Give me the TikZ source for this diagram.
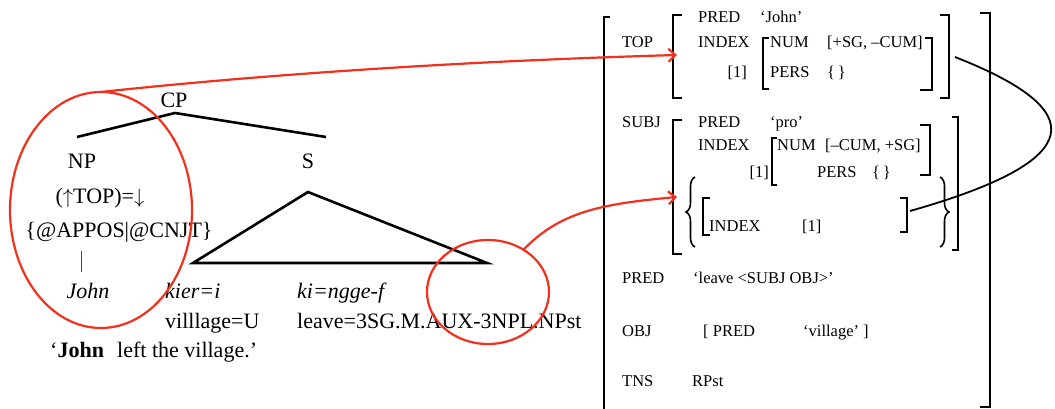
\documentclass[tikz,border=0pt]{standalone}
\usepackage{fontspec}
\setmainfont{Liberation Serif}
\usetikzlibrary{arrows.meta,shapes.geometric,decorations.pathreplacing}
\definecolor{hlred}{RGB}{242,48,28}
\begin{document}
\begin{tikzpicture}[x=1pt,y=-1pt,
  tr/.style={font=\fontsize{22}{26}\selectfont, inner sep=0pt, anchor=base},
  tri/.style={font=\fontsize{22}{26}\selectfont\itshape, inner sep=0pt, anchor=base},
  trl/.style={tr, anchor=base west},
  tril/.style={tri, anchor=base west},
  fs/.style={font=\fontsize{16.5}{20}\selectfont, inner sep=0pt, anchor=base west},
  fsr/.style={fs, anchor=base east},
  treeline/.style={line width=2.6pt, line join=miter},
  brk/.style={line width=1.8pt},
  curlyl/.style={line width=1.6pt, decorate, decoration={brace, amplitude=9pt}},
  hl/.style={draw=hlred, line width=2.2pt},
  hlarrow/.style={hl, -{Straight Barb[length=7pt,width=13pt]}},
  oval/.style={ellipse, hl, inner sep=0pt, outer sep=0pt},
]
\useasboundingbox (0,0) rectangle (1055,409);

% ---------- c-structure tree ----------
\node[tr] (cp) at (174,108) {CP};
\node[tr] (np) at (82,168) {NP};
\node[tr] (s)  at (308,168) {S};
\coordinate (cp-foot) at (175,113);
\coordinate (np-head) at (77,137);
\coordinate (s-head)  at (326,137);
\draw[treeline] (np-head) -- (cp-foot) -- (s-head);

\node[tr] (ann-top)  at (100,204) {($\uparrow$TOP)=$\downarrow$};
\node[tr] (ann-tmpl) at (119,237) {\{@APPOS|@CNJT\}};
\coordinate (bar-top) at (81,251);
\coordinate (bar-bot) at (81,272);
\draw[line width=0.9pt, black!70] (bar-top) -- (bar-bot);

\coordinate (tri-apex)  at (308,192);
\coordinate (tri-left)  at (193,263);
\coordinate (tri-right) at (487,263);
\draw[treeline] (tri-apex) -- (tri-left) -- (tri-right) -- cycle;

% ---------- words, glosses, translation ----------
\node[tri]  (w-john) at (88,298)  {John};
\node[tril] (w-kier) at (165,298) {kier=i};
\node[tril] (w-verb) at (297,298) {ki=ngge-f};
\node[trl]  (g-kier) at (165,328) {villlage=U};
\node[trl]  (g-verb) at (297,328) {leave=3SG.M.AUX-3NPL.NPst};
\node[trl]  (transl) at (50,357)  {‘\textbf{John}\hspace{0.6em}left the village.’};

% ---------- f-structure ----------
% outer brackets
\draw[brk] (610,17) -- (604,17) -- (604,409);
\draw[brk] (980,13) -- (990,13) -- (990,407) -- (980,407);

% TOP
\node[fs] (l-top) at (622,48) {TOP};
\draw[brk] (682,15) -- (673,15) -- (673,98) -- (682,98);
\draw[brk] (940,15) -- (949,15) -- (949,98) -- (940,98);
\node[fs]  (top-pred)   at (698,23) {PRED};
\node[fs]  (top-pred-v) at (760,23) {‘John’};
\node[fs]  (top-index)  at (698,48) {INDEX};
\node[fsr] (top-tag)    at (747,78) {[1]};
\draw[brk] (769,38) -- (763,38) -- (763,89) -- (769,89);
\draw[brk] (925,38) -- (932,38) -- (932,90) -- (920,90);
\node[fs]  (top-num)    at (770,48) {NUM};
\node[fs]  (top-num-v)  at (827,48) {[+SG, –CUM]};
\node[fs]  (top-pers)   at (770,78) {PERS};
\node[fs]  (top-pers-v) at (827,78) {\{\,\}};

% SUBJ
\node[fs] (l-subj) at (622,128) {SUBJ};
\draw[brk] (682,120) -- (673,120) -- (673,254) -- (682,254);
\draw[brk] (952,117) -- (958,117) -- (958,250) -- (952,250);
\node[fs]  (subj-pred)   at (698,128) {PRED};
\node[fs]  (subj-pred-v) at (770,128) {‘pro’};
\node[fs]  (subj-index)  at (698,151) {INDEX};
\node[fsr] (subj-tag)    at (769,178) {[1]};
\draw[brk] (777,138) -- (772,138) -- (772,185) -- (777,185);
\draw[brk] (920,125) -- (930,125) -- (930,175) -- (920,175);
\node[fs]  (subj-num)    at (777,151) {NUM};
\node[fs]  (subj-num-v)  at (825,151) {[–CUM, +SG]};
\node[fs]  (subj-pers)   at (817,178) {PERS};
\node[fs]  (subj-pers-v) at (872,178) {\{\,\}};

% set of adjuncts inside SUBJ
\draw[curlyl] (695,247) -- (695,177);
\draw[curlyl] (940,177) -- (940,247);
\draw[brk] (710,198) -- (703,198) -- (703,235) -- (710,235);
\draw[brk] (900,198) -- (907,198) -- (907,232) -- (900,232);
\node[fs] (set-index) at (709,231) {INDEX};
\node[fs] (set-tag)   at (802,231) {[1]};

% remaining attributes
\node[fs] (l-pred) at (622,283) {PRED};
\node[fs] (pred-v) at (693,283) {‘leave <SUBJ OBJ>’};
\node[fs] (l-obj)  at (622,336) {OBJ};
\node[fs] (obj-pred) at (703,336) {[ PRED};
\node[fs] (obj-v)  at (803,336) {‘village’ ]};
\node[fs] (l-tns)  at (622,386) {TNS};
\node[fs] (tns-v)  at (692,386) {RPst};

% curve linking the TOP value to the set member
\coordinate (link-a) at (955,57);
\coordinate (link-b) at (910,211);
\draw[line width=1.8pt] (link-a) .. controls (1090,110) and (1090,160) .. (link-b);

% ---------- highlights ----------
\node[oval, minimum width=182pt, minimum height=236pt] (ov-np) at (101,210) {};
\node[oval, minimum width=122pt, minimum height=104pt] (ov-verb) at (488,292) {};
\coordinate (top-in) at (677,55);
\coordinate (set-in) at (677,197);
\draw[hlarrow] (ov-np.north) .. controls (230,78) and (430,62) .. (top-in);
\draw[hlarrow] (ov-verb.50) .. controls (560,212) and (600,204) .. (set-in);
\end{tikzpicture}
\end{document}
